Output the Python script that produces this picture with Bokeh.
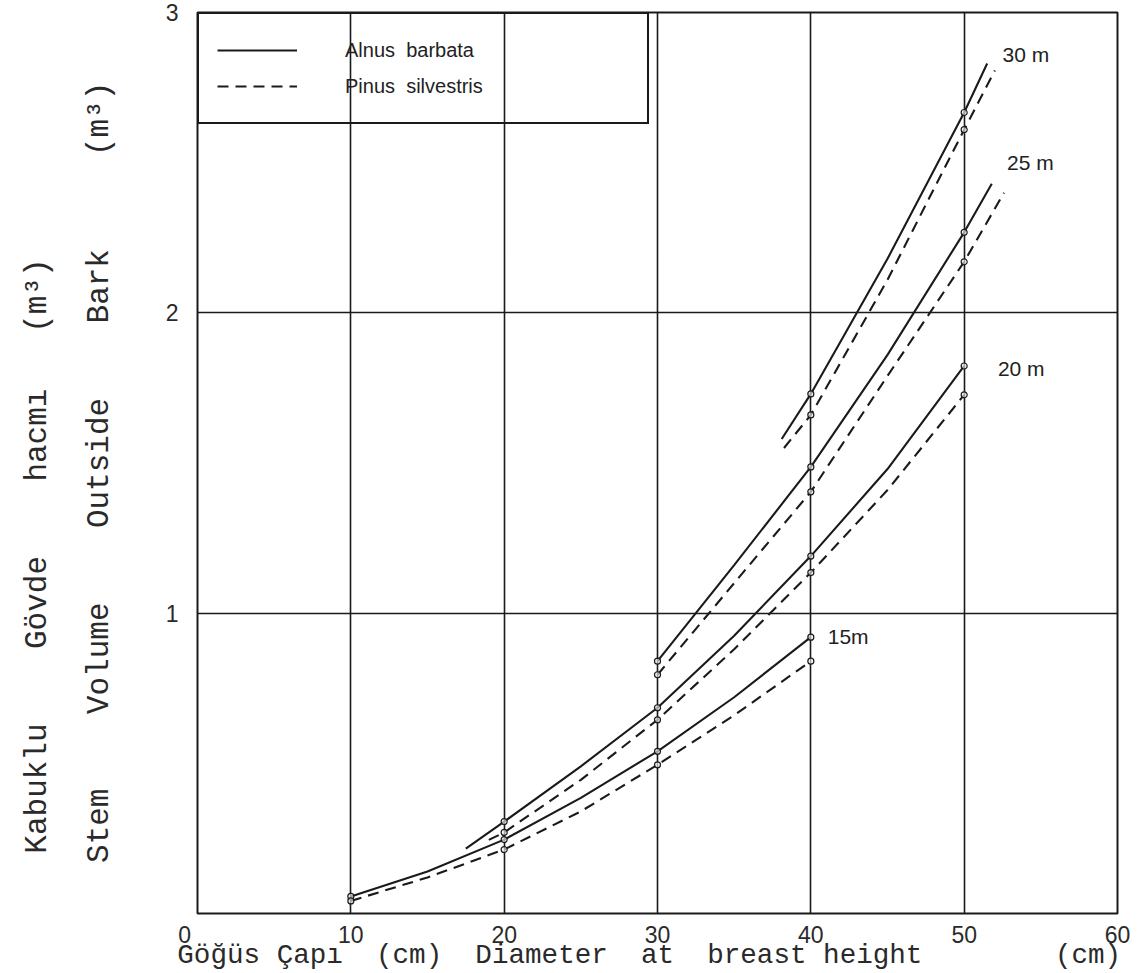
from bokeh.plotting import figure
from bokeh.models import Range1d, FixedTicker, Label, Legend, LegendItem, LinearAxis
from bokeh.embed import file_html
from bokeh.resources import INLINE

# Stem volume outside bark (m3) against diameter at breast height (cm),
# one curve per tree height for each species.
d_alnus_15 = [10, 15, 20, 25, 30, 35, 40]
v_alnus_15 = [0.057, 0.14, 0.246, 0.385, 0.54, 0.72, 0.92]
d_pinus_15 = [10, 15, 20, 25, 30, 35, 40]
v_pinus_15 = [0.042, 0.12, 0.213, 0.34, 0.495, 0.66, 0.84]

d_alnus_20 = [17.5, 20, 25, 30, 35, 40, 45, 50]
v_alnus_20 = [0.216, 0.306, 0.49, 0.685, 0.925, 1.19, 1.48, 1.823]
d_pinus_20 = [19.0, 20, 25, 30, 35, 40, 45, 50]
v_pinus_20 = [0.245, 0.27, 0.445, 0.645, 0.88, 1.135, 1.41, 1.727]

d_alnus_25 = [30, 35, 40, 45, 50, 51.8]
v_alnus_25 = [0.84, 1.16, 1.487, 1.86, 2.268, 2.43]
d_pinus_25 = [30, 35, 40, 45, 50, 52.6]
v_pinus_25 = [0.795, 1.10, 1.404, 1.79, 2.17, 2.40]

d_alnus_30 = [38.1, 40, 45, 50, 51.5]
v_alnus_30 = [1.58, 1.73, 2.18, 2.667, 2.83]
d_pinus_30 = [38.25, 40, 45, 50, 52.0]
v_pinus_30 = [1.55, 1.66, 2.11, 2.61, 2.807]

heights = ["15m", "20 m", "25 m", "30 m"]
x_ticks = [0, 10, 20, 30, 40, 50, 60]
y_ticks = [0, 1, 2, 3]

INK = "#1a1a1a"
TEXT = "#2a2a2a"
MONO = "Liberation Mono"
SANS = "Liberation Sans"
NB = "\u00a0"


def typed(*parts, tail=0):
    """Typewriter line: (word, spaces-after) pairs joined with non-collapsing spaces."""
    return "".join(w + NB * n for w, n in parts) + NB * tail


p = figure(width=1140, height=973, output_backend="svg", toolbar_location=None,
           x_range=Range1d(0, 60), y_range=Range1d(0, 3),
           min_border_left=197, min_border_right=23, min_border_top=12,
           min_border_bottom=59, background_fill_color="white",
           border_fill_color="white")

p.outline_line_color = INK
p.outline_line_width = 2

p.xaxis.ticker = FixedTicker(ticks=x_ticks)
p.yaxis.ticker = FixedTicker(ticks=y_ticks)
p.xaxis.major_label_overrides = {0: "0" + NB * 4}
p.yaxis.major_label_overrides = {0: ""}
for ax in (p.xaxis[0], p.yaxis[0]):
    ax.axis_line_color = None
    ax.major_tick_line_color = None
    ax.minor_tick_line_color = None
    ax.major_tick_out = 0
    ax.major_tick_in = 0
    ax.major_label_text_font = SANS
    ax.major_label_text_font_size = "23px"
    ax.major_label_text_color = TEXT
    ax.axis_label_text_font = MONO
    ax.axis_label_text_font_style = "normal"
    ax.axis_label_text_color = TEXT
p.xaxis.major_label_standoff = 8
p.yaxis.major_label_standoff = 19

# bottom title, typewriter spacing
p.xaxis.axis_label = typed(("Göğüs", 1), ("Çapı", 2), ("(cm)", 2), ("Diameter", 2),
                           ("at", 2), ("breast", 1), ("height", 8), ("(cm)", 0), tail=1)
p.xaxis.axis_label_text_font_size = "27.6px"
p.xaxis.axis_label_standoff = -11

# inner left title
p.yaxis.axis_label = typed(("Stem", 4), ("Volume", 4), ("Outside", 4), ("Bark", 5),
                           ("(m³)", 0), tail=1)
p.yaxis.axis_label_text_font_size = "31px"
p.yaxis.axis_label_standoff = 46

# outer left title (Turkish)
outer = LinearAxis(ticker=FixedTicker(ticks=[]), axis_line_color=None,
                   major_tick_out=0, major_tick_in=0, minor_tick_out=0,
                   axis_label=typed(("Kabuklu", 4), ("Gövde", 4), ("hacmı", 3),
                                    ("(m³)", 0), tail=10),
                   axis_label_standoff=24, axis_label_text_font=MONO,
                   axis_label_text_font_size="31px",
                   axis_label_text_font_style="normal",
                   axis_label_text_color=TEXT)
p.add_layout(outer, "left")

p.xgrid.grid_line_color = INK
p.xgrid.grid_line_width = 1.6
p.ygrid.grid_line_color = INK
p.ygrid.grid_line_width = 1.6

curves = [
    (d_alnus_15, v_alnus_15, d_pinus_15, v_pinus_15),
    (d_alnus_20, v_alnus_20, d_pinus_20, v_pinus_20),
    (d_alnus_25, v_alnus_25, d_pinus_25, v_pinus_25),
    (d_alnus_30, v_alnus_30, d_pinus_30, v_pinus_30),
]

alnus_r, pinus_r = [], []
for da, va, dp, vp in curves:
    alnus_r.append(p.line(da, va, line_color=INK, line_width=2.1))
    pinus_r.append(p.line(dp, vp, line_color=INK, line_width=2.1,
                          line_dash="11 7"))
    # small open rings on the read-off diameters (10 cm steps)
    for dd, vv in ((da, va), (dp, vp)):
        mx = [d for d in dd if d % 10 == 0]
        my = [v for d, v in zip(dd, vv) if d % 10 == 0]
        p.scatter(mx, my, marker="circle", size=6, fill_color="white",
                  fill_alpha=0.6, line_color=INK, line_width=1.2)

legend = Legend(items=[
    LegendItem(label="Alnus  barbata", renderers=[alnus_r[0]]),
    LegendItem(label="Pinus  silvestris", renderers=[pinus_r[0]]),
], location="top_left")
legend.margin = 0
legend.padding = 18
legend.spacing = 0
legend.glyph_width = 80
legend.glyph_height = 36
legend.label_height = 36
legend.label_width = 284
legend.label_standoff = 48
legend.label_text_font = SANS
legend.label_text_font_size = "20px"
legend.label_text_color = "#222222"
legend.border_line_color = INK
legend.border_line_alpha = 1.0
legend.border_line_width = 2.5
legend.background_fill_alpha = 0.0
p.add_layout(legend)

# height labels next to the curve ends
label_pos = [(41.1, 0.921), (52.2, 1.816), (52.8, 2.50), (52.5, 2.86)]
for txt, (lx, ly) in zip(heights, label_pos):
    p.add_layout(Label(x=lx, y=ly, text=txt, text_font=SANS,
                       text_font_size="21px", text_color="#222222",
                       text_baseline="middle"))

open("out.html", "w").write(file_html(p, INLINE))
